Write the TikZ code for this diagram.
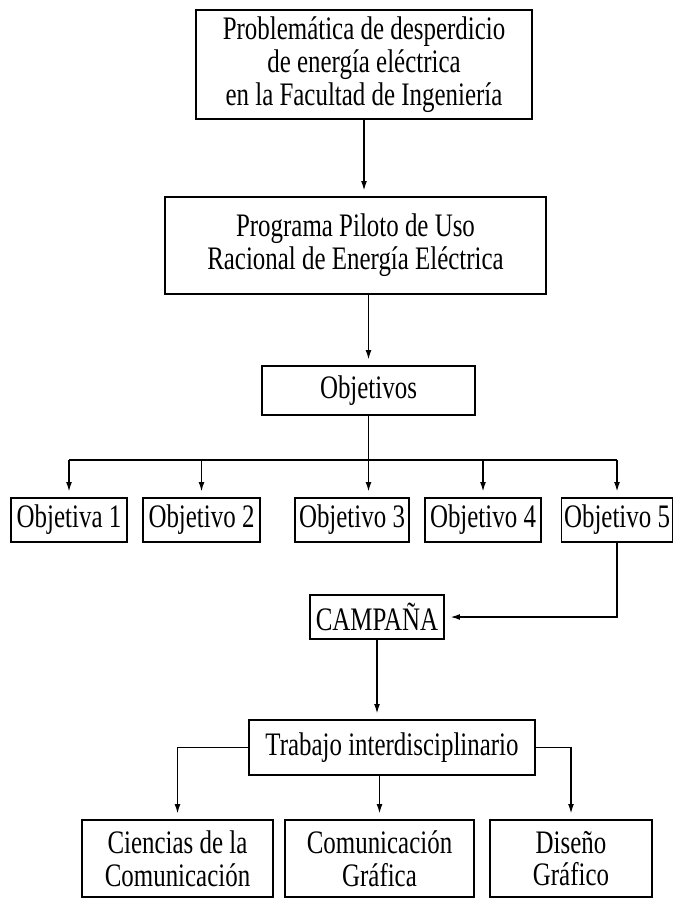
\documentclass[tikz,border=0pt]{standalone}
\usepackage{fontspec}
\setmainfont{Liberation Serif}[FakeStretch=0.76]
\usetikzlibrary{arrows.meta}
\tikzset{
	box/.style={draw,rectangle,align=center,inner sep=2pt,line width=1.2pt,font=\fontsize{28}{28}\selectfont},
	flow/.style={->,line width=1.1pt,shorten >=5pt},
	>={Latex[length=8pt,width=5pt]}
}

\begin{document}
\begin{tikzpicture}[x=0.03cm,y=-0.03cm]
            \useasboundingbox (0,0) rectangle (673,900);
            \node[box,minimum width=10.08cm,minimum height=3.27cm] (prob) at (364,64.5) {Problemática de desperdicio\\de energía eléctrica\\en la Facultad de Ingeniería};
            \node[box,minimum width=11.43cm,minimum height=2.91cm] (prog) at (355.5,245.5) {Programa Piloto de Uso\\Racional de Energía Eléctrica};
            \node[box,minimum width=6.39cm,minimum height=1.47cm] (obj) at (368.5,390.5) {Objetivos};
            \node[box,minimum width=3.48cm,minimum height=1.32cm] (o1) at (69,520) {Objetiva 1};
            \node[box,minimum width=3.51cm,minimum height=1.32cm] (o2) at (201.5,520) {Objetivo 2};
            \node[box,minimum width=3.42cm,minimum height=1.32cm] (o3) at (352,520) {Objetivo 3};
            \node[box,minimum width=3.48cm,minimum height=1.32cm] (o4) at (483,520) {Objetivo 4};
            \node[box,minimum width=3.30cm,minimum height=1.32cm] (o5) at (617,520) {Objetivo 5};
            \node[box,minimum width=4.02cm,minimum height=1.32cm] (camp) at (377,617) {CAMPAÑA};
            \node[box,minimum width=8.58cm,minimum height=1.65cm] (trab) at (392,747.5) {Trabajo interdisciplinario};
            \node[box,minimum width=5.73cm,minimum height=2.31cm] (cien) at (177.5,858.5) {Ciencias de la\\Comunicación};
            \node[box,minimum width=5.67cm,minimum height=2.31cm] (comg) at (379.5,858.5) {Comunicación\\Gráfica};
            \node[box,minimum width=4.86cm,minimum height=2.31cm] (dise) at (571,858.5) {Diseño\\Gráfico};
            \coordinate (bus) at (368,460);
            \draw[flow] (prob.south) -- (prob.south |- prog.north);
            \draw[flow] (obj.north |- prog.south) -- (obj.north);
            \draw[flow] (obj.south) -- (obj.south |- o3.north);
            \draw[line width=1.1pt] (o1.north |- bus) -- (o5.north |- bus);
            \foreach \o in {o1,o2,o4,o5}
                \draw[flow] (\o.north |- bus) -- (\o.north);
            \draw[flow] (o5.south) |- (camp.east);
            \draw[flow] (camp.south) -- (camp.south |- trab.north);
            \draw[flow] (trab.west) -| (cien.north);
            \draw[flow] (trab.south -| comg.north) -- (comg.north);
            \draw[flow] (trab.east) -| (dise.north);
        \end{tikzpicture}
\end{document}
